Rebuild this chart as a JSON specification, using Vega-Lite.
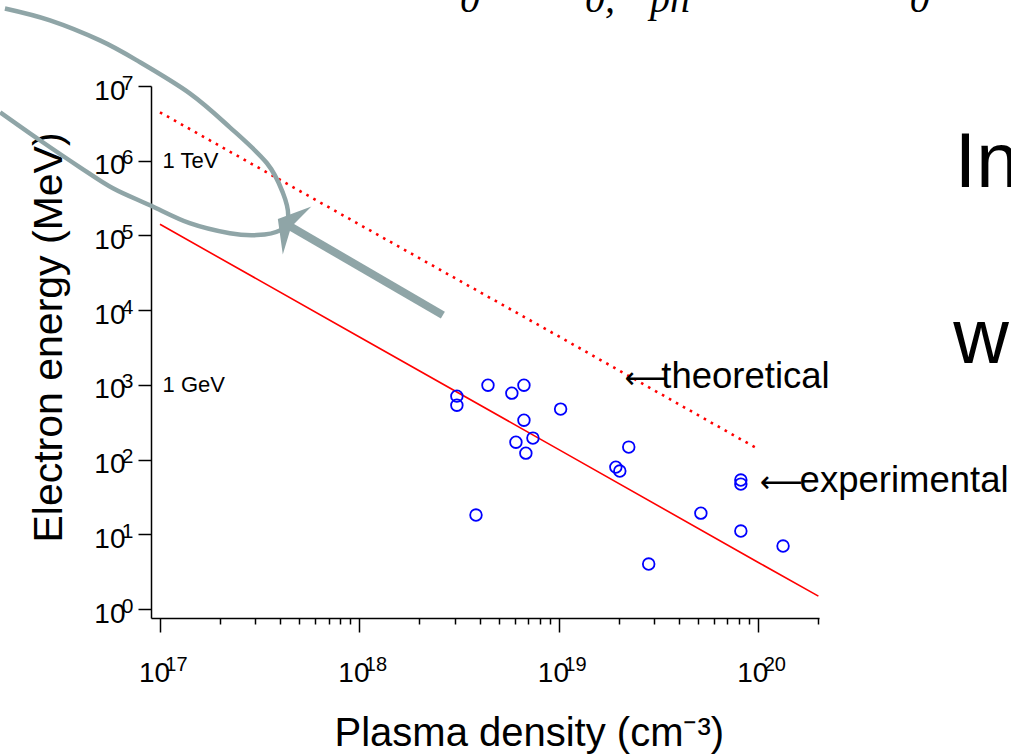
{
  "$schema": "https://vega.github.io/schema/vega-lite/v6.json",
  "width": 668,
  "height": 532,
  "autosize": {"type": "none"},
  "padding": {"left": 151, "top": 86, "right": 192, "bottom": 136},
  "background": "white",
  "config": {
    "view": {"stroke": null},
    "font": "Liberation Sans",
    "axis": {"grid": false, "domainColor": "black", "tickColor": "black", "labelColor": "black", "titleColor": "black", "domainWidth": 1.5, "tickWidth": 1.5, "labelFont": "Liberation Sans", "titleFont": "Liberation Sans", "titleFontWeight": "normal"}
  },
  "datasets": {
    "solid": [
      {"n": 1e17, "E": 141000},
      {"n": 1e18, "E": 4380},
      {"n": 1e19, "E": 136},
      {"n": 1e20, "E": 4.2},
      {"n": 2e20, "E": 1.49}
    ],
    "dotted": [
      {"n": 1e17, "E": 4450000},
      {"n": 1e18, "E": 140000},
      {"n": 1e19, "E": 4450},
      {"n": 9.8e19, "E": 142}
    ],
    "exp": [
      {"n": 3.08e18, "E": 707},
      {"n": 3.08e18, "E": 535},
      {"n": 4.41e18, "E": 991},
      {"n": 5.81e18, "E": 775},
      {"n": 6.68e18, "E": 991},
      {"n": 1.02e19, "E": 474},
      {"n": 6.68e18, "E": 337},
      {"n": 7.41e18, "E": 194},
      {"n": 6.09e18, "E": 171},
      {"n": 6.83e18, "E": 122},
      {"n": 2.24e19, "E": 147},
      {"n": 1.93e19, "E": 79.3},
      {"n": 2.02e19, "E": 70.2},
      {"n": 8.17e19, "E": 53.2},
      {"n": 8.17e19, "E": 47.0},
      {"n": 5.15e19, "E": 19.2},
      {"n": 8.17e19, "E": 11.05},
      {"n": 1.33e20, "E": 6.96},
      {"n": 2.82e19, "E": 4.0},
      {"n": 3.84e18, "E": 18.1}
    ],
    "marks": [
      {"n": 1.03e17, "E": 1000000, "label": "1 TeV"},
      {"n": 1.03e17, "E": 1000, "label": "1 GeV"}
    ],
    "arrowglyphs": [
      {"n": 2.14e19, "E": 904, "label": "⟵"},
      {"n": 1.02e20, "E": 36.7, "label": "⟵"}
    ],
    "arrows": [
      {"n": 3.26e19, "E": 904, "label": "theoretical"},
      {"n": 1.61e20, "E": 36.7, "label": "experimental"}
    ],
    "big": [
      {"n": 9.66e20, "E": 442000, "label": "In"},
      {"n": 9.5e20, "E": 1950, "label": "w"}
    ],
    "formula": [
      {"n": 3.19e18, "E": 96800000, "label": "0"},
      {"n": 1.35e19, "E": 96800000, "label": "0,"},
      {"n": 2.86e19, "E": 96800000, "label": "pn"},
      {"n": 5.74e20, "E": 96800000, "label": "0"}
    ],
    "ellipse": [
      {"o": 1, "n": 1.67e16, "E": 1.09e8},
      {"o": 2, "n": 2.81e16, "E": 7.56e7},
      {"o": 3, "n": 5.0e16, "E": 4.08e7},
      {"o": 4, "n": 7.67e16, "E": 2.2e7},
      {"o": 5, "n": 1.41e17, "E": 7.98e6},
      {"o": 6, "n": 2.24e17, "E": 2.8e6},
      {"o": 7, "n": 3.44e17, "E": 9.25e5},
      {"o": 8, "n": 4.14e17, "E": 3.67e5},
      {"o": 9, "n": 4.39e17, "E": 1.75e5},
      {"o": 10, "n": 4.0e17, "E": 1.17e5},
      {"o": 11, "n": 3.06e17, "E": 1.01e5},
      {"o": 12, "n": 2.24e17, "E": 1.07e5},
      {"o": 13, "n": 1.41e17, "E": 1.46e5},
      {"o": 14, "n": 8.91e16, "E": 2.54e5},
      {"o": 15, "n": 5.81e16, "E": 4.28e5},
      {"o": 16, "n": 3.97e16, "E": 8.17e5},
      {"o": 17, "n": 2.5e16, "E": 1.88e6},
      {"o": 18, "n": 1.58e16, "E": 4.45e6}
    ],
    "shaft": [
      {"n": 2.62e18, "E": 8570},
      {"n": 4.48e17, "E": 133000}
    ],
    "head": [
      {"n": 4.48e17, "E": 133000}
    ]
  },
  "resolve": {"axis": {"x": "independent", "y": "independent"}},
  "layer": [
    {
      "data": {"name": "solid"},
      "mark": {"type": "line", "color": "#ff0000", "strokeWidth": 1.6, "clip": false},
      "encoding": {
        "x": {"field": "n", "type": "quantitative",
          "scale": {"type": "log", "domain": [9.016e16, 2.014e20], "nice": false, "zero": false},
          "axis": {"orient": "bottom", "values": [1e17, 1e18, 1e19, 1e20], "labelExpr": "'10'", "labelFontSize": 28, "labelOffset": -6, "tickSize": 14, "labelPadding": 27, "labelFlush": false, "labelOverlap": false,
            "title": "Plasma density (cm⁻³)", "titleFontSize": 40, "titleAlign": "left", "titleBaseline": "alphabetic", "titleX": 183, "titleY": 127}},
        "y": {"field": "E", "type": "quantitative",
          "scale": {"type": "log", "domain": [0.7586, 1e7], "nice": false, "zero": false},
          "axis": {"orient": "left", "values": [1, 10, 100, 1000, 10000, 100000, 1000000, 10000000], "labelExpr": "'10'", "labelFontSize": 28, "labelOffset": 5, "tickSize": 13, "labelPadding": 13, "labelFlush": false, "labelOverlap": false,
            "title": "Electron energy (MeV)", "titleFontSize": 41, "titleAngle": -90, "titleAlign": "center", "titleBaseline": "alphabetic", "titleX": -90, "titleY": 251}}
      }
    },
    {
      "data": {"name": "dotted"},
      "mark": {"type": "line", "color": "#ff0000", "strokeWidth": 2.6, "strokeDash": [2.6, 5.4], "clip": false},
      "encoding": {
        "x": {"field": "n", "type": "quantitative",
          "scale": {"type": "log", "domain": [9.016e16, 2.014e20], "nice": false, "zero": false},
          "axis": {"orient": "bottom", "values": [2e17, 3e17, 4e17, 5e17, 6e17, 7e17, 8e17, 9e17, 2e18, 3e18, 4e18, 5e18, 6e18, 7e18, 8e18, 9e18, 2e19, 3e19, 4e19, 5e19, 6e19, 7e19, 8e19, 9e19, 2e20], "labels": false, "domain": false, "tickSize": 6, "title": null}},
        "y": {"field": "E", "type": "quantitative",
          "scale": {"type": "log", "domain": [0.7586, 1e7], "nice": false, "zero": false},
          "axis": null}
      }
    },
    {
      "data": {"name": "exp"},
      "mark": {"type": "point", "shape": "circle", "filled": false, "stroke": "#0000ff", "strokeWidth": 1.8, "size": 135, "opacity": 1, "clip": false},
      "encoding": {
        "x": {"field": "n", "type": "quantitative",
          "scale": {"type": "log", "domain": [9.016e16, 2.014e20], "nice": false, "zero": false},
          "axis": {"orient": "bottom", "values": [1e17, 1e18, 1e19, 1e20], "labelExpr": "'' + round(log(datum.value) / LN10)", "labelFontSize": 20, "labelOffset": 16, "ticks": false, "tickSize": 0, "domain": false, "labelPadding": 36, "labelFlush": false, "labelOverlap": false, "title": null}},
        "y": {"field": "E", "type": "quantitative",
          "scale": {"type": "log", "domain": [0.7586, 1e7], "nice": false, "zero": false},
          "axis": {"orient": "left", "values": [1, 10, 100, 1000, 10000, 100000, 1000000, 10000000], "labelExpr": "'' + round(log(datum.value) / LN10)", "labelFontSize": 21, "labelOffset": -3, "ticks": false, "tickSize": 0, "domain": false, "labelPadding": 18, "labelFlush": false, "labelOverlap": false, "title": null}}
      }
    },
    {
      "data": {"name": "marks"},
      "mark": {"type": "text", "fontSize": 22, "align": "left", "baseline": "middle", "color": "black", "font": "Liberation Sans"},
      "encoding": {
        "x": {"field": "n", "type": "quantitative", "scale": {"type": "log", "domain": [9.016e16, 2.014e20], "nice": false, "zero": false}, "axis": null},
        "y": {"field": "E", "type": "quantitative", "scale": {"type": "log", "domain": [0.7586, 1e7], "nice": false, "zero": false}, "axis": null},
        "text": {"field": "label"}
      }
    },
    {
      "data": {"name": "arrowglyphs"},
      "mark": {"type": "text", "fontSize": 30, "align": "left", "baseline": "alphabetic", "color": "black", "font": "DejaVu Sans"},
      "encoding": {
        "x": {"field": "n", "type": "quantitative", "scale": {"type": "log", "domain": [9.016e16, 2.014e20], "nice": false, "zero": false}, "axis": null},
        "y": {"field": "E", "type": "quantitative", "scale": {"type": "log", "domain": [0.7586, 1e7], "nice": false, "zero": false}, "axis": null},
        "text": {"field": "label"}
      }
    },
    {
      "data": {"name": "arrows"},
      "mark": {"type": "text", "fontSize": 36.5, "align": "left", "baseline": "alphabetic", "color": "black", "font": "Liberation Sans"},
      "encoding": {
        "x": {"field": "n", "type": "quantitative", "scale": {"type": "log", "domain": [9.016e16, 2.014e20], "nice": false, "zero": false}, "axis": null},
        "y": {"field": "E", "type": "quantitative", "scale": {"type": "log", "domain": [0.7586, 1e7], "nice": false, "zero": false}, "axis": null},
        "text": {"field": "label"}
      }
    },
    {
      "data": {"name": "big"},
      "mark": {"type": "text", "fontSize": 77, "align": "left", "baseline": "alphabetic", "color": "black", "font": "Liberation Sans"},
      "encoding": {
        "x": {"field": "n", "type": "quantitative", "scale": {"type": "log", "domain": [9.016e16, 2.014e20], "nice": false, "zero": false}, "axis": null},
        "y": {"field": "E", "type": "quantitative", "scale": {"type": "log", "domain": [0.7586, 1e7], "nice": false, "zero": false}, "axis": null},
        "text": {"field": "label"}
      }
    },
    {
      "data": {"name": "formula"},
      "mark": {"type": "text", "fontSize": 40, "align": "left", "baseline": "alphabetic", "color": "black", "font": "Liberation Serif", "fontStyle": "italic"},
      "encoding": {
        "x": {"field": "n", "type": "quantitative", "scale": {"type": "log", "domain": [9.016e16, 2.014e20], "nice": false, "zero": false}, "axis": null},
        "y": {"field": "E", "type": "quantitative", "scale": {"type": "log", "domain": [0.7586, 1e7], "nice": false, "zero": false}, "axis": null},
        "text": {"field": "label"}
      }
    },
    {
      "data": {"name": "ellipse"},
      "mark": {"type": "line", "color": "#8fa5a7", "strokeWidth": 4.5, "interpolate": "cardinal", "clip": false},
      "encoding": {
        "x": {"field": "n", "type": "quantitative", "scale": {"type": "log", "domain": [9.016e16, 2.014e20], "nice": false, "zero": false}, "axis": null},
        "y": {"field": "E", "type": "quantitative", "scale": {"type": "log", "domain": [0.7586, 1e7], "nice": false, "zero": false}, "axis": null},
        "order": {"field": "o", "type": "quantitative"}
      }
    },
    {
      "data": {"name": "shaft"},
      "mark": {"type": "line", "color": "#8fa5a7", "strokeWidth": 8, "clip": false},
      "encoding": {
        "x": {"field": "n", "type": "quantitative", "scale": {"type": "log", "domain": [9.016e16, 2.014e20], "nice": false, "zero": false}, "axis": null},
        "y": {"field": "E", "type": "quantitative", "scale": {"type": "log", "domain": [0.7586, 1e7], "nice": false, "zero": false}, "axis": null}
      }
    },
    {
      "data": {"name": "head"},
      "mark": {"type": "point", "shape": "M0,-0.5 L1,0.3 L0,0.05 L-1,0.3 Z", "filled": true, "color": "#8fa5a7", "opacity": 1, "size": 3136, "angle": 300.7, "clip": false},
      "encoding": {
        "x": {"field": "n", "type": "quantitative", "scale": {"type": "log", "domain": [9.016e16, 2.014e20], "nice": false, "zero": false}, "axis": null},
        "y": {"field": "E", "type": "quantitative", "scale": {"type": "log", "domain": [0.7586, 1e7], "nice": false, "zero": false}, "axis": null}
      }
    }
  ]
}
